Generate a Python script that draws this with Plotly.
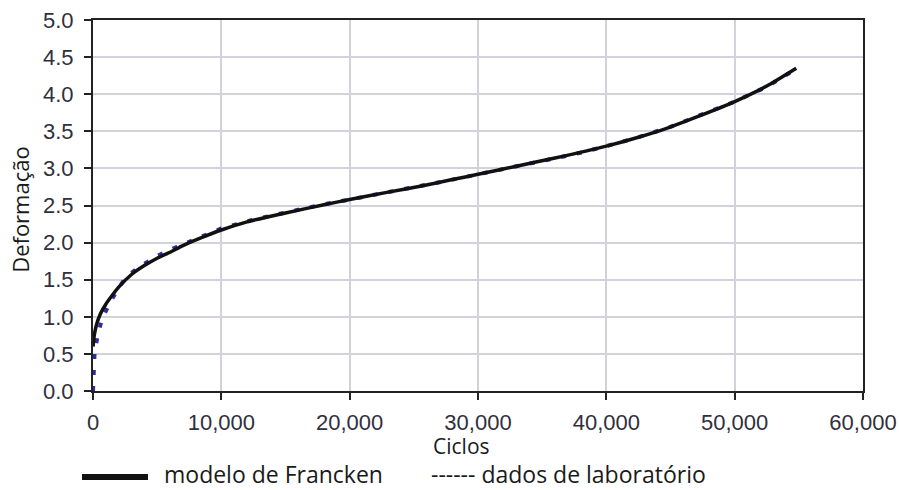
import plotly.graph_objects as go

# Francken model curve (cycles vs. permanent deformation)
model_cycles = [5, 100, 250, 580, 1000, 1500, 2000, 3000, 4000, 5000, 6000, 7000,
                8500, 10000, 12000, 15000, 18000, 20000, 23000, 25500, 28000, 30000,
                33000, 36000, 40000, 42500, 44700, 47300, 50000, 52500, 54800]
model_deform = [0.60, 0.75, 0.88, 1.04, 1.17, 1.29, 1.40, 1.57, 1.69, 1.79, 1.87, 1.96,
                2.07, 2.17, 2.28, 2.40, 2.51, 2.58, 2.68, 2.76, 2.85, 2.92,
                3.03, 3.14, 3.30, 3.42, 3.54, 3.71, 3.90, 4.11, 4.35]

# Laboratory measurements
lab_cycles = [0, 60, 120, 350, 700, 1400, 2500, 3500, 5000, 6500, 8000, 10000,
              12500, 15000, 17500, 20000, 22500, 25000, 27500, 30000, 32500, 35000,
              37500, 40000, 42500, 45000, 47500, 50000, 52500, 54500]
lab_deform = [0.00, 0.25, 0.50, 0.74, 0.97, 1.22, 1.52, 1.66, 1.82, 1.94, 2.05, 2.19,
              2.31, 2.41, 2.50, 2.58, 2.66, 2.74, 2.83, 2.92, 3.01, 3.10,
              3.19, 3.30, 3.42, 3.56, 3.73, 3.90, 4.10, 4.31]

x_ticks = [0, 10000, 20000, 30000, 40000, 50000, 60000]
y_ticks = [0.0, 0.5, 1.0, 1.5, 2.0, 2.5, 3.0, 3.5, 4.0, 4.5, 5.0]

label_font = "Open Sans, Noto Sans, DejaVu Sans, sans-serif"
tick_font = dict(family="Liberation Sans, Arial, sans-serif", size=22, color="#30303c")

fig = go.Figure()
fig.add_trace(go.Scatter(
    x=lab_cycles, y=lab_deform, mode="lines", name="dados de laboratório",
    line=dict(color="#2e2e9c", width=4, dash="5px,11px"),
    showlegend=False,
))
fig.add_trace(go.Scatter(
    x=model_cycles, y=model_deform, mode="lines", name="modelo de Francken",
    line=dict(color="#111111", width=3.5, shape="spline", smoothing=0.6),
    showlegend=False,
))

axis_common = dict(
    showline=True, linecolor="#222222", linewidth=2, mirror=True,
    ticks="outside", ticklen=7, tickwidth=2, tickcolor="#222222",
    showgrid=True, gridcolor="#d2d2da", gridwidth=1.5,
    zeroline=False, tickfont=tick_font, automargin=False,
)

fig.update_xaxes(range=[0, 60000], tickvals=x_ticks, tickformat=",d",
                 ticklabelstandoff=4, **axis_common)
fig.update_yaxes(range=[0, 5], tickvals=y_ticks, tickformat=".1f",
                 ticklabelstandoff=6, **axis_common)

annotations = [
    dict(text="Ciclos", x=0.478, y=-0.148, xref="paper", yref="paper",
         xanchor="center", yanchor="middle", showarrow=False, borderpad=0,
         font=dict(family=label_font, size=21, color="#1a1a1a")),
    dict(text="Deformação", x=-0.094, y=0.49, xref="paper", yref="paper",
         xanchor="center", yanchor="middle", textangle=-90, showarrow=False,
         font=dict(family=label_font, size=22, color="#1a1a1a")),
    dict(text="modelo de Francken", x=0.091, y=-0.2237, xref="paper", yref="paper",
         xanchor="left", yanchor="middle", showarrow=False, borderpad=0,
         font=dict(family=label_font, size=23, color="#1a1a1a")),
    dict(text="------ dados de laboratório", x=0.438, y=-0.2237, xref="paper", yref="paper",
         xanchor="left", yanchor="middle", showarrow=False, borderpad=0,
         font=dict(family=label_font, size=23, color="#1a1a1a")),
]

# legend swatch for the model line
shapes = [dict(type="line", xref="paper", yref="paper",
               x0=-0.0143, x1=0.0714, y0=-0.2318, y1=-0.2318,
               line=dict(color="#111111", width=6))]

fig.update_layout(
    width=899, height=490,
    margin=dict(l=93, r=36, t=20, b=99),
    paper_bgcolor="white", plot_bgcolor="white",
    annotations=annotations, shapes=shapes,
    showlegend=False,
)

fig.write_html("out.html")
